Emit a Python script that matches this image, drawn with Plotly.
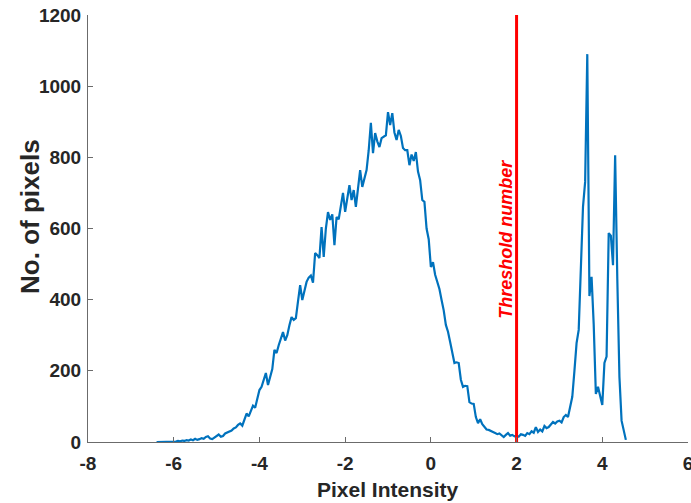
import numpy as np
import plotly.graph_objects as go

# Histogram bins: first bin centre and bin width
bin_start = -6.4
bin_width = 0.05

# Pixel counts per bin
counts = [
    0, 0, 1, 0, 1, 1, 2, 1, 2, 1,
    3, 2, 4, 3, 5, 4, 7, 5, 9, 6,
    8, 11, 9, 14, 16, 10, 8, 13, 18, 21,
    15, 17, 24, 26, 30, 32, 38, 41, 48, 52,
    46, 63, 80, 72, 88, 102, 96, 120, 146, 155,
    178, 194, 160, 185, 205, 259, 250, 272, 290, 309,
    285, 300, 328, 351, 343, 348, 395, 441, 399, 425,
    450, 462, 468, 448, 531, 525, 517, 604, 520, 600,
    646, 624, 640, 553, 632, 626, 660, 700, 647, 690,
    722, 680, 708, 661, 720, 764, 717, 740, 764, 820,
    897, 812, 868, 845, 829, 854, 858, 862, 927, 891,
    924, 870, 849, 877, 860, 826, 820, 820, 778, 808,
    790, 815, 760, 736, 680, 675, 600, 570, 492, 505,
    470, 450, 430, 399, 370, 329, 310, 281, 250, 222,
    224, 222, 175, 155, 158, 157, 112, 108, 107, 70,
    53, 64, 50, 42, 35, 34, 30, 28, 25, 22,
    24, 18, 14, 20, 25, 18, 20, 16, 18, 15,
    22, 20, 17, 25, 22, 30, 26, 42, 28, 35,
    30, 45, 39, 42, 50, 56, 52, 58, 60, 55,
    70, 76, 70, 95, 127, 200, 278, 315, 480, 661,
    731, 1090, 410, 464, 330, 135, 155, 125, 104, 222,
    240, 587, 580, 497, 806, 460, 183, 60, 35, 6,
]

threshold = 2
threshold_label = "Threshold number"
x_title = "Pixel Intensity"
y_title = "No. of pixels"
x_ticks = [-8, -6, -4, -2, 0, 2, 4, 6]
y_ticks = [0, 200, 400, 600, 800, 1000, 1200]

x = bin_start + bin_width * np.arange(len(counts))

FONT = "Liberation Sans, Arial"
TXT = "#262626"

fig = go.Figure()
fig.add_trace(go.Scatter(
    x=x, y=counts, mode="lines",
    line=dict(color="#0072BD", width=2.2),
    showlegend=False, hoverinfo="skip",
))
fig.add_trace(go.Scatter(
    x=[threshold, threshold], y=[0, 1200], mode="lines",
    line=dict(color="#FF0000", width=3),
    showlegend=False, hoverinfo="skip",
))

fig.add_annotation(
    x=threshold, y=570, xref="x", yref="y",
    text="<b><i>" + threshold_label + "</i></b>",
    textangle=-90, showarrow=False, xshift=-10,
    font=dict(family=FONT, size=18, color="#FF0000"),
    xanchor="center", yanchor="middle",
)
# axis titles
fig.add_annotation(
    x=0.5, y=0, xref="paper", yref="paper", yshift=-47,
    text="<b>" + x_title + "</b>", showarrow=False,
    font=dict(family=FONT, size=21, color=TXT),
    xanchor="center", yanchor="middle",
)
fig.add_annotation(
    x=0, y=0.527, xref="paper", yref="paper", xshift=-58,
    text="<b>" + y_title + "</b>", showarrow=False, textangle=-90,
    font=dict(family=FONT, size=26, color=TXT),
    xanchor="center", yanchor="middle",
)

axis_common = dict(
    showgrid=False, zeroline=False, showline=True,
    linecolor="#6b6b6b", linewidth=1,
    ticks="inside", ticklen=5, tickcolor="#6b6b6b",
    tickfont=dict(family=FONT, size=19, color=TXT),
    automargin=False, ticklabeloverflow="allow",
)

fig.update_layout(
    width=691, height=503,
    margin=dict(l=88, r=3, t=15, b=61),
    paper_bgcolor="white", plot_bgcolor="white",
    font=dict(family=FONT, color=TXT),
    xaxis=dict(
        range=[-8, 6], tickvals=x_ticks,
        ticktext=["<b>%d</b>" % v for v in x_ticks],
        ticklabelstandoff=4,
        **axis_common,
    ),
    yaxis=dict(
        range=[0, 1200], tickvals=y_ticks,
        ticktext=["<b>%d</b>" % v for v in y_ticks],
        ticklabelstandoff=2,
        **axis_common,
    ),
)

fig.write_html(
    "out.html",
    config={"displayModeBar": False},
    post_script="document.body.style.margin='0';document.body.style.overflow='hidden';",
)
